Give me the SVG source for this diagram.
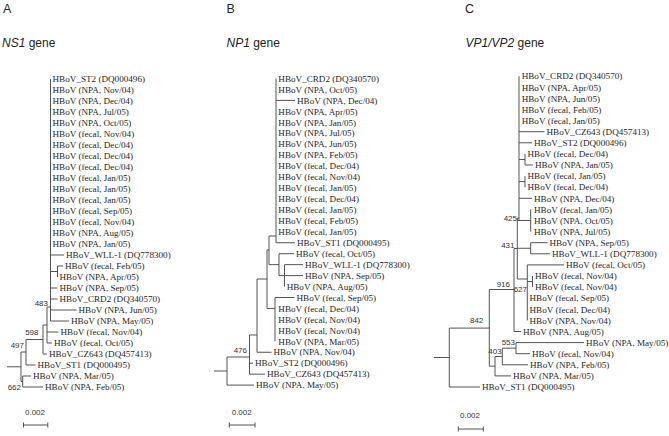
<svg xmlns="http://www.w3.org/2000/svg" width="669" height="436" viewBox="0 0 669 436">
<style>
.t{font-family:"Liberation Serif","Times New Roman",serif;font-size:9.15px;fill:#262626}
.bs{font-family:"Liberation Sans",Arial,sans-serif;font-size:8px;fill:#333}
.bsr{font-family:"Liberation Sans",Arial,sans-serif;font-size:8px;fill:#333;text-anchor:end}
.h{font-family:"Liberation Sans",Arial,sans-serif;font-size:12.5px;fill:#222}
.g{font-family:"Liberation Sans",Arial,sans-serif;font-size:12px;fill:#222}
.ln{fill:none;stroke:#4a4a4a;stroke-width:0.95}
</style>
<rect width="669" height="436" fill="#fff"/>

<g id="headings">
<text class="h" x="3" y="13">A</text>
<text class="g" x="2" y="47"><tspan font-style="italic">NS1</tspan> gene</text>
<text class="h" x="226.5" y="13">B</text>
<text class="g" x="226.5" y="47"><tspan font-style="italic">NP1</tspan> gene</text>
<text class="h" x="465" y="13">C</text>
<text class="g" x="465.5" y="47"><tspan font-style="italic">VP1/VP2</tspan> gene</text>
</g>

<g id="connectors">
<!-- Panel A -->
<path class="ln" d="M50.5,79V321 M50.5,255H64 M50.5,271.5H57.5 M57.5,266V277 M57.5,266H63 M50.5,288H57.5 M50.5,299H57.5 M50.5,310H76.5 M50.5,321H69
M47,307H50.5 M47,307V343 M47,332H58.5 M47,343H52
M43,325H47 M43,325V354 M43,354H47
M26,339.5H43 M26,339.5V365 M26,365H35.5
M7,366.8H21 M21,352V381.5 M21,352H26 M21,381.5H22.7 M22.7,376V387 M22.7,376H31 M22.7,387H43"/>
<!-- Panel B -->
<path class="ln" d="M276,78.5V242.75 M276,100.4H295 M276,242.75H295
M269,236H276 M269,236V264.65 M269,264.65H279 M279,253.7V275.6 M279,253.7H294 M279,275.6H284.5 M284.5,264.65V286.55 M284.5,264.65H303 M284.5,275.6H303
M267,250H269 M267,250V308.45 M267,308.45H275 M275,297.5V341.3 M275,297.5H294.5
M257,279H267 M257,279V352.25 M257,352.25H271.5
M249.5,335H257 M249.5,335V374.15 M249.5,363.2H253 M249.5,374.15H265
M227,357H249.5 M227,357V385.1 M227,385.1H254 M214,371H227"/>
<!-- Panel C -->
<path class="ln" d="M519,76.2V220.5 M519,131.7H544.5 M519,142.8H532 M519,159.45H525 M525,153.9V165 M525,165H533 M519,181.65H525 M525,176.1V187.2 M519,198.3H532
M517.3,220.5H530.7 M530.7,209.4V231.6
M517.3,218V279 M517.3,218H519 M517.3,248.25H530.7 M530.7,242.7V253.8 M530.7,242.7H547.5 M530.7,253.8H550
M517.3,279H527.3 M527.3,264.9V320.4 M527.3,264.9H564 M527.3,281.55H532.5 M532.5,276V287.1
M514,248.5H517.3 M514,248.5V331.5 M514,331.5H521
M489.3,289.5H514 M489.3,289.5V366.2
M489.3,366.2H495 M495,356.5V375.9 M495,375.9H511 M495,356.5H502.3 M502.3,348.15V364.8 M502.3,364.8H528 M502.3,348.15H516 M516,342.6V353.7 M516,342.6H584 M516,353.7H530
M449.3,328.1H489.3 M449.3,328.1V387 M449.3,387H480 M434,357.5H449.3"/>
<!-- scale bars -->
<path class="ln" d="M23.5,425H47.8 M23.5,422.5V427.5 M47.8,422.5V427.5
M229.3,425H255 M229.3,422.5V427.5 M255,422.5V427.5
M458.3,429H483.3 M458.3,426.5V431.5 M483.3,426.5V431.5"/>
</g>

<g id="panelA">
<text class="t" x="52.5" y="82.2">HBoV_ST2 (DQ000496)</text>
<text class="t" x="52.5" y="93.2">HBoV (NPA, Nov/04)</text>
<text class="t" x="52.5" y="104.2">HBoV (NPA, Dec/04)</text>
<text class="t" x="52.5" y="115.2">HBoV (NPA, Jul/05)</text>
<text class="t" x="52.5" y="126.2">HBoV (NPA, Oct/05)</text>
<text class="t" x="52.5" y="137.2">HBoV (fecal, Nov/04)</text>
<text class="t" x="52.5" y="148.2">HBoV (fecal, Dec/04)</text>
<text class="t" x="52.5" y="159.2">HBoV (fecal, Dec/04)</text>
<text class="t" x="52.5" y="170.2">HBoV (fecal, Dec/04)</text>
<text class="t" x="52.5" y="181.2">HBoV (fecal, Jan/05)</text>
<text class="t" x="52.5" y="192.2">HBoV (fecal, Jan/05)</text>
<text class="t" x="52.5" y="203.2">HBoV (fecal, Jan/05)</text>
<text class="t" x="52.5" y="214.2">HBoV (fecal, Sep/05)</text>
<text class="t" x="52.5" y="225.2">HBoV (fecal, Nov/04)</text>
<text class="t" x="52.5" y="236.2">HBoV (NPA, Aug/05)</text>
<text class="t" x="52.5" y="247.2">HBoV (NPA, Jan/05)</text>
<text class="t" x="66" y="258.2">HBoV_WLL-1 (DQ778300)</text>
<text class="t" x="65" y="269.2">HBoV (fecal, Feb/05)</text>
<text class="t" x="59.5" y="280.2">HBoV (NPA, Apr/05)</text>
<text class="t" x="59.5" y="291.2">HBoV (NPA, Sep/05)</text>
<text class="t" x="59.5" y="302.2">HBoV_CRD2 (DQ340570)</text>
<text class="t" x="78.5" y="313.2">HBoV (NPA, Jun/05)</text>
<text class="t" x="71" y="324.2">HBoV (NPA, May/05)</text>
<text class="t" x="60.5" y="335.2">HBoV (fecal, Nov/04)</text>
<text class="t" x="54" y="346.2">HBoV (fecal, Oct/05)</text>
<text class="t" x="49" y="357.2">HBoV_CZ643 (DQ457413)</text>
<text class="t" x="37.5" y="368.2">HBoV_ST1 (DQ000495)</text>
<text class="t" x="33" y="379.2">HBoV (NPA, Mar/05)</text>
<text class="t" x="45" y="390.2">HBoV (NPA, Feb/05)</text>
<text class="bsr" x="48" y="305.5">483</text>
<text class="bsr" x="38.5" y="335">598</text>
<text class="bsr" x="24" y="348">497</text>
<text class="bsr" x="21" y="390">662</text>
<text class="bs" x="25" y="415">0.002</text>
</g>

<g id="panelB">
<text class="t" x="278.3" y="81.7">HBoV_CRD2 (DQ340570)</text>
<text class="t" x="278.3" y="92.65">HBoV (NPA, Oct/05)</text>
<text class="t" x="297" y="103.6">HBoV (NPA, Dec/04)</text>
<text class="t" x="278.3" y="114.55">HBoV (NPA, Apr/05)</text>
<text class="t" x="278.3" y="125.5">HBoV (NPA, Jan/05)</text>
<text class="t" x="278.3" y="136.45">HBoV (NPA, Jul/05)</text>
<text class="t" x="278.3" y="147.4">HBoV (NPA, Jun/05)</text>
<text class="t" x="278.3" y="158.35">HBoV (NPA, Feb/05)</text>
<text class="t" x="278.3" y="169.3">HBoV (fecal, Dec/04)</text>
<text class="t" x="278.3" y="180.25">HBoV (fecal, Nov/04)</text>
<text class="t" x="278.3" y="191.2">HBoV (fecal, Jan/05)</text>
<text class="t" x="278.3" y="202.15">HBoV (fecal, Dec/04)</text>
<text class="t" x="278.3" y="213.1">HBoV (fecal, Jan/05)</text>
<text class="t" x="278.3" y="224.05">HBoV (fecal, Feb/05)</text>
<text class="t" x="278.3" y="235">HBoV (fecal, Jan/05)</text>
<text class="t" x="297" y="245.95">HBoV_ST1 (DQ000495)</text>
<text class="t" x="296" y="256.9">HBoV (fecal, Oct/05)</text>
<text class="t" x="305" y="267.85">HBoV_WLL-1 (DQ778300)</text>
<text class="t" x="305" y="278.8">HBoV (NPA, Sep/05)</text>
<text class="t" x="286.7" y="289.75">HBoV (NPA, Aug/05)</text>
<text class="t" x="296.5" y="300.7">HBoV (fecal, Sep/05)</text>
<text class="t" x="278.3" y="311.65">HBoV (fecal, Dec/04)</text>
<text class="t" x="278.3" y="322.6">HBoV (fecal, Nov/04)</text>
<text class="t" x="278.3" y="333.55">HBoV (fecal, Nov/04)</text>
<text class="t" x="278.3" y="344.5">HBoV (NPA, Mar/05)</text>
<text class="t" x="273.5" y="355.45">HBoV (NPA, Nov/04)</text>
<text class="t" x="255" y="366.4">HBoV_ST2 (DQ000496)</text>
<text class="t" x="267" y="377.35">HBoV_CZ643 (DQ457413)</text>
<text class="t" x="256" y="388.3">HBoV (NPA, May/05)</text>
<text class="bsr" x="247" y="353">476</text>
<text class="bs" x="231.7" y="415">0.002</text>
</g>

<g id="panelC">
<text class="t" x="521.7" y="79.4">HBoV_CRD2 (DQ340570)</text>
<text class="t" x="521.7" y="90.5">HBoV (NPA, Apr/05)</text>
<text class="t" x="521.7" y="101.6">HBoV (NPA, Jun/05)</text>
<text class="t" x="521.7" y="112.7">HBoV (fecal, Feb/05)</text>
<text class="t" x="521.7" y="123.8">HBoV (fecal, Jan/05)</text>
<text class="t" x="546.5" y="134.9">HBoV_CZ643 (DQ457413)</text>
<text class="t" x="534" y="146">HBoV_ST2 (DQ000496)</text>
<text class="t" x="527.5" y="157.1">HBoV (fecal, Dec/04)</text>
<text class="t" x="535" y="168.2">HBoV (NPA, Jan/05)</text>
<text class="t" x="527.5" y="179.3">HBoV (fecal, Jan/05)</text>
<text class="t" x="527.5" y="190.4">HBoV (fecal, Dec/04)</text>
<text class="t" x="534" y="201.5">HBoV (NPA, Dec/04)</text>
<text class="t" x="534" y="212.6">HBoV (fecal, Jan/05)</text>
<text class="t" x="534" y="223.7">HBoV (NPA, Oct/05)</text>
<text class="t" x="534" y="234.8">HBoV (NPA, Jul/05)</text>
<text class="t" x="549.5" y="245.9">HBoV (NPA, Sep/05)</text>
<text class="t" x="552" y="257">HBoV_WLL-1 (DQ778300)</text>
<text class="t" x="566" y="268.1">HBoV (fecal, Oct/05)</text>
<text class="t" x="535" y="279.2">HBoV (fecal, Nov/04)</text>
<text class="t" x="535" y="290.3">HBoV (fecal, Nov/04)</text>
<text class="t" x="529.5" y="301.4">HBoV (fecal, Sep/05)</text>
<text class="t" x="529.5" y="312.5">HBoV (fecal, Dec/04)</text>
<text class="t" x="529.5" y="323.6">HBoV (NPA, Nov/04)</text>
<text class="t" x="523" y="334.7">HBoV (NPA, Aug/05)</text>
<text class="t" x="586" y="345.8">HBoV (NPA, May/05)</text>
<text class="t" x="532" y="356.9">HBoV (fecal, Nov/04)</text>
<text class="t" x="530" y="368">HBoV (NPA, Feb/05)</text>
<text class="t" x="513" y="379.1">HBoV (NPA, Mar/05)</text>
<text class="t" x="482" y="390.2">HBoV_ST1 (DQ000495)</text>
<text class="bsr" x="517" y="220.5">425</text>
<text class="bsr" x="514.5" y="248">431</text>
<text class="bsr" x="510" y="287">916</text>
<text class="bsr" x="527" y="292">627</text>
<text class="bsr" x="483.3" y="323">842</text>
<text class="bsr" x="515" y="345">553</text>
<text class="bsr" x="501.7" y="353.5">403</text>
<text class="bs" x="460" y="418">0.002</text>
</g>
</svg>
